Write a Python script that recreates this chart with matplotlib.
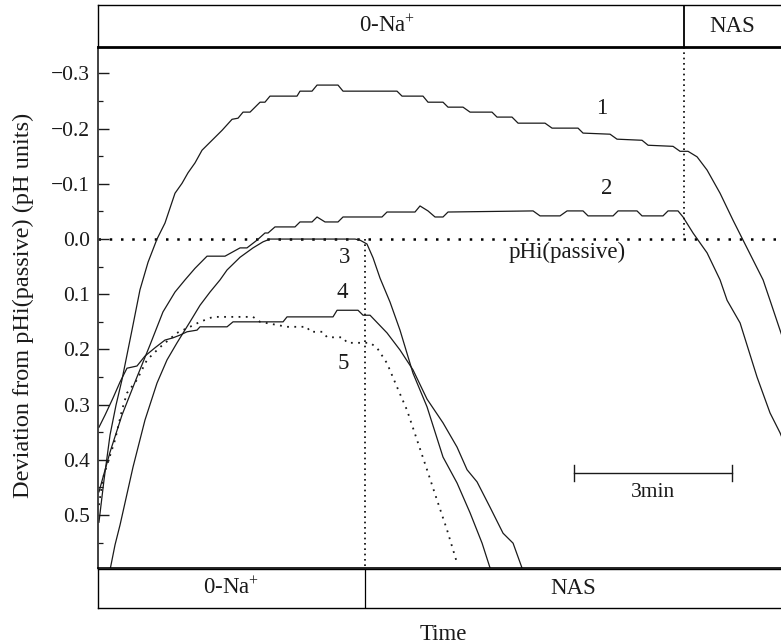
import matplotlib
matplotlib.use('Agg')
import matplotlib.pyplot as plt
from matplotlib.ticker import FixedLocator, MultipleLocator

plt.rcParams['font.family'] = ['Liberation Serif', 'DejaVu Serif']
plt.rcParams['mathtext.fontset'] = 'custom'
plt.rcParams['mathtext.rm'] = 'Liberation Serif'
plt.rcParams['mathtext.it'] = 'Liberation Serif:italic'

# ---------------- data (time in s, deviation in pH units) ----------------
t1 = [1.1, 6.8, 13.7, 20.5, 27.3, 38.7, 47.8, 57.0, 67.2, 76.3, 82.0, 87.7, 95.7, 102.5,
      110.5, 118.5, 129.9, 141.3, 152.7, 159.5, 165.2, 173.2, 184.6, 190.2, 195.9, 226.7,
      230.1, 243.8, 249.5, 273.4, 279.1, 340.6, 346.3, 370.2, 375.9, 393.0, 398.7, 415.8,
      423.8, 448.8, 454.5, 471.6, 478.5, 509.2, 517.2, 546.8, 552.5, 583.3, 591.2, 619.7,
      626.6, 655.0, 663.0, 672.1, 682.4, 693.8, 708.6, 723.4, 734.8, 746.2, 757.6, 765.5,
      776.9, 782.6]
v1 = [0.513, 0.437, 0.355, 0.301, 0.255, 0.165, 0.092, 0.042, 0.000, -0.029, -0.056, -0.083,
      -0.101, -0.120, -0.138, -0.161, -0.179, -0.197, -0.217, -0.219, -0.230, -0.230, -0.248,
      -0.248, -0.259, -0.259, -0.268, -0.268, -0.279, -0.279, -0.268, -0.268, -0.259, -0.259,
      -0.248, -0.248, -0.239, -0.239, -0.230, -0.230, -0.221, -0.221, -0.210, -0.210, -0.201,
      -0.201, -0.192, -0.190, -0.181, -0.179, -0.170, -0.168, -0.159, -0.159, -0.149, -0.125,
      -0.083, -0.034, 0.002, 0.038, 0.074, 0.111, 0.165, 0.192]

t2 = [1.1, 13.7, 27.3, 44.4, 59.2, 74.0, 87.7, 99.1, 110.5, 124.2, 144.7, 161.8, 169.7,
      181.1, 190.2, 193.7, 201.6, 224.4, 230.1, 243.8, 249.5, 258.6, 273.4, 279.1, 323.5,
      329.2, 361.1, 366.8, 375.9, 383.9, 393.0, 398.7, 495.6, 503.5, 526.3, 534.3, 552.5,
      558.2, 586.7, 592.4, 614.0, 619.7, 643.6, 649.3, 660.7, 666.4, 677.8, 693.8, 708.6,
      716.6, 731.4, 750.7, 765.5, 776.9, 782.6]
v2 = [0.458, 0.386, 0.319, 0.250, 0.192, 0.132, 0.096, 0.074, 0.053, 0.031, 0.031, 0.016,
      0.016, 0.002, -0.011, -0.011, -0.022, -0.022, -0.031, -0.031, -0.040, -0.031, -0.031,
      -0.040, -0.040, -0.049, -0.049, -0.060, -0.051, -0.040, -0.040, -0.049, -0.051, -0.042,
      -0.042, -0.051, -0.051, -0.042, -0.042, -0.051, -0.051, -0.042, -0.042, -0.051, -0.051,
      -0.040, -0.011, 0.025, 0.074, 0.111, 0.152, 0.250, 0.315, 0.351, 0.373]

t3 = [12.5, 19.4, 25.1, 39.9, 53.5, 67.2, 78.6, 90.0, 104.8, 116.2, 127.6, 139.0, 147.0,
      161.8, 176.6, 188.0, 195.9, 292.8, 298.5, 306.4, 313.3, 321.3, 332.6, 344.0, 358.8,
      374.8, 393.0, 409.0, 423.8, 437.5, 446.6, 448.8]
v3 = [0.609, 0.554, 0.518, 0.413, 0.328, 0.261, 0.219, 0.188, 0.150, 0.120, 0.096, 0.074,
      0.056, 0.033, 0.016, 0.005, 0.000, 0.000, 0.002, 0.009, 0.034, 0.071, 0.114, 0.165,
      0.243, 0.304, 0.395, 0.442, 0.496, 0.551, 0.596, 0.609]

t4 = [1.1, 8.0, 17.1, 25.1, 33.0, 44.4, 53.5, 64.9, 76.3, 85.4, 93.4, 101.4, 112.8, 116.2,
      147.0, 153.8, 210.8, 215.3, 267.7, 272.3, 296.2, 301.9, 309.9, 329.2, 344.0, 358.8,
      374.8, 393.0, 409.0, 420.4, 431.8, 446.6, 461.4, 472.8, 483.0, 485.3]
v4 = [0.341, 0.319, 0.288, 0.259, 0.234, 0.230, 0.212, 0.197, 0.183, 0.179, 0.174, 0.168,
      0.165, 0.159, 0.159, 0.150, 0.150, 0.141, 0.141, 0.129, 0.129, 0.138, 0.138, 0.170,
      0.201, 0.237, 0.290, 0.333, 0.377, 0.418, 0.440, 0.486, 0.533, 0.551, 0.596, 0.609]

t5 = [1.1, 5.7, 11.4, 19.4, 27.3, 33.0, 44.4, 55.8, 70.6, 90.0, 104.8, 116.2, 131.0, 176.6,
      184.6, 215.3, 238.1, 241.5, 256.3, 260.9, 279.1, 283.7, 309.9, 317.8, 329.2, 340.6,
      352.0, 363.4, 374.8, 386.2, 397.6, 409.0]
v5 = [0.482, 0.433, 0.404, 0.364, 0.310, 0.279, 0.255, 0.219, 0.196, 0.170, 0.159, 0.150,
      0.141, 0.141, 0.150, 0.159, 0.159, 0.168, 0.168, 0.178, 0.178, 0.188, 0.188, 0.197,
      0.225, 0.268, 0.310, 0.364, 0.418, 0.473, 0.527, 0.587]

curve_labels = ['1', '2', '3', '4', '5']
label_t = [574, 580, 281, 278, 279]
label_v = [-0.237, -0.092, 0.033, 0.096, 0.225]

ytick_values = [-0.3, -0.2, -0.1, 0.0, 0.1, 0.2, 0.3, 0.4, 0.5]
ytick_labels = ['\u22120.3', '\u22120.2', '\u22120.1', '0.0', '0.1', '0.2', '0.3', '0.4', '0.5']

switch_lower = 304.2   # s: 0-Na+ -> NAS for traces 3-5
switch_upper = 667.5   # s: 0-Na+ -> NAS for traces 1-2
scale_start = 542.3    # s
scale_len = 180        # s (3 min)
scale_v = 0.424
t_range = (0, 778)
v_range = (0.596, -0.348)

# ---------------- figure ----------------
W, H = 781, 644
fig = plt.figure(figsize=(W / 100, H / 100), dpi=100)
L = 98 / W
ink = '#1a1a1a'
fs = 16.5

ax = fig.add_axes([L, (H - 568) / H, 1 - L, (568 - 47) / H])
ax.set_xlim(*t_range)
ax.set_ylim(*v_range)
for s in ['right', 'top']:
    ax.spines[s].set_visible(False)
ax.spines['left'].set_linewidth(1.3)
ax.spines['left'].set_color('#333333')
ax.spines['bottom'].set_linewidth(1.2)
ax.set_xticks([])
ax.yaxis.set_major_locator(FixedLocator(ytick_values))
ax.set_yticklabels(ytick_labels)
ax.yaxis.set_minor_locator(MultipleLocator(0.05))
ax.tick_params(axis='y', which='major', direction='in', length=8, width=1.0,
               labelsize=15.5, pad=6, colors=ink)
ax.tick_params(axis='y', which='minor', direction='in', length=3.5, width=0.9, colors=ink)

# reference lines
ax.axhline(0, color='k', lw=1.8, ls=(0, (1, 3.5)), zorder=1)
ax.plot([switch_lower, switch_lower], [0, v_range[0]], color='k', lw=1.2,
        ls=(0, (1, 2.2)), clip_on=False)
ax.plot([switch_upper, switch_upper], [v_range[1], 0], color='k', lw=1.2,
        ls=(0, (1, 2.2)))

# traces
for t, v in [(t1, v1), (t2, v2), (t3, v3), (t4, v4)]:
    ax.plot(t, v, color=ink, lw=0.9, solid_joinstyle='round')
ax.plot(t5, v5, color=ink, lw=1.3, ls=(0, (1, 3)))

for lab, tx, vy in zip(curve_labels, label_t, label_v):
    ax.text(tx, vy, lab, fontsize=fs, ha='center', va='center', color=ink)
ax.text(534, 0.025, 'pHi(passive)', fontsize=fs, ha='center', va='center', color=ink)

# scale bar
ax.plot([scale_start, scale_start + scale_len], [scale_v, scale_v], color=ink, lw=1.0)
for xe in (scale_start, scale_start + scale_len):
    ax.plot([xe, xe], [scale_v - 0.0145, scale_v + 0.0145], color=ink, lw=1.0)
ax.text(scale_start + scale_len / 2, scale_v + 0.036, '3min', fontsize=15.5,
        ha='center', va='center', color=ink)

# header box (traces 1-2 protocol)
hax = fig.add_axes([L, (H - 47) / H, 1 - L, 42 / H])
hax.set_xlim(*t_range)
hax.set_ylim(0, 1)
hax.set_xticks([]); hax.set_yticks([])
hax.spines['right'].set_visible(False)
hax.spines['bottom'].set_linewidth(2.0)
hax.spines['top'].set_linewidth(1.0)
hax.spines['left'].set_linewidth(1.0)
hax.axvline(switch_upper, color='k', lw=1.3)
hax.text(switch_upper / 2 - 5, 0.5, '0-Na$^{+}$', fontsize=fs, ha='center', va='center', color=ink)
hax.text((switch_upper + t_range[1]) / 2, 0.5, 'NAS', fontsize=fs, ha='center', va='center', color=ink)

# lower box (traces 3-5 protocol)
lax = fig.add_axes([L, (H - 608) / H, 1 - L, 39 / H])
lax.set_xlim(*t_range)
lax.set_ylim(0, 1)
lax.set_xticks([]); lax.set_yticks([])
lax.spines['right'].set_visible(False)
for s in ['top', 'bottom', 'left']:
    lax.spines[s].set_linewidth(1.0)
lax.axvline(switch_lower, color='k', lw=0.9)
lax.text(switch_lower / 2, 0.5, '0-Na$^{+}$', fontsize=fs, ha='center', va='center', color=ink)
lax.text((switch_lower + t_range[1]) / 2, 0.5, 'NAS', fontsize=fs, ha='center', va='center', color=ink)

fig.text(443 / W, 1 - 634 / H, 'Time', fontsize=fs, ha='center', va='center', color=ink)
fig.text(23 / W, 1 - 305 / H, 'Deviation from pHi(passive) (pH units)', fontsize=17.5,
         rotation=90, ha='center', va='center', color=ink)

fig.savefig('out.png', dpi=100)
